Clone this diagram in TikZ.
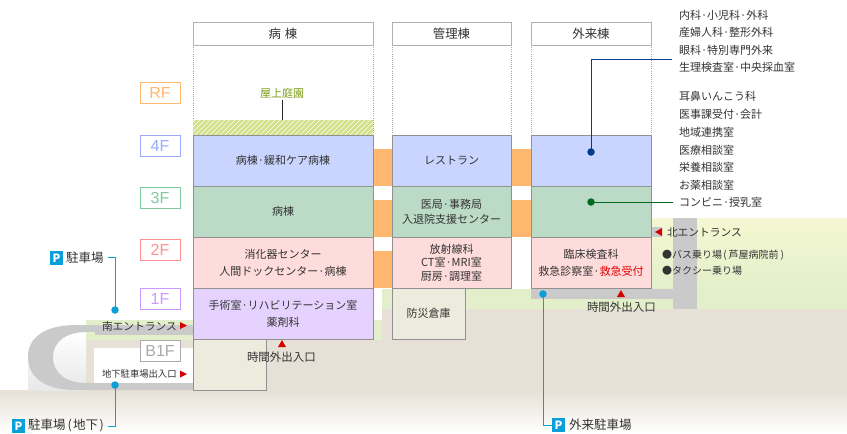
\documentclass[tikz,border=0pt]{standalone}
\usepackage{fontspec}
\setmainfont{Noto Sans CJK JP}
\newfontfamily\flfont{Liberation Sans}
\definecolor{txt}{HTML}{333333}
\definecolor{ground}{HTML}{E6E0D6}
\definecolor{grass}{HTML}{E3EFCB}
\definecolor{paley}{HTML}{F5F8D2}
\definecolor{road}{HTML}{CACACA}
\definecolor{wallc}{HTML}{919191}
\definecolor{conn}{HTML}{FFB870}
\definecolor{bluep}{HTML}{0A9FD8}
\definecolor{redm}{HTML}{D40000}
\definecolor{roof}{HTML}{D2E18A}
\definecolor{fl4}{HTML}{C9D5FF}
\definecolor{fl3}{HTML}{BBDBC6}
\definecolor{fl2}{HTML}{FFDCDC}
\definecolor{fl1}{HTML}{E5D2FF}
\definecolor{flb}{HTML}{ECEBDD}
\definecolor{lb4}{HTML}{99AAFF}
\definecolor{lb3}{HTML}{80C9A0}
\definecolor{lb2}{HTML}{FF9090}
\definecolor{lb1}{HTML}{CC99FF}
\definecolor{lbb}{HTML}{AAAAAA}
\definecolor{oliv}{HTML}{7A9A10}
\definecolor{dgreen}{HTML}{006A20}
\definecolor{dblue}{HTML}{003C8C}
\tikzset{
  every node/.style={inner sep=0pt,outer sep=0pt,text=txt,font=\fontsize{8.25pt}{12.75pt}\selectfont,align=center},
  cellbox/.style n args={3}{draw=wallc,line width=.75pt,fill=#3,minimum width=#1*.75pt,minimum height=#2*.75pt,anchor=north west},
  headbox/.style={draw=black!30,line width=.75pt,fill=white,minimum width=#1*.75pt,minimum height=23*.75pt,anchor=north west,font=\fontsize{9.3pt}{12pt}\selectfont},
  floorbox/.style={draw=#1,line width=.75pt,fill=white,text=#1,minimum width=40*.75pt,minimum height=21*.75pt,anchor=north west,font=\flfont\fontsize{12pt}{12pt}\selectfont},
  lab/.style={anchor=west},
  smalllab/.style={anchor=west,font=\fontsize{7pt}{10pt}\selectfont},
  biglab/.style={anchor=west,font=\fontsize{8.6pt}{12pt}\selectfont},
  katalab/.style={anchor=west,font=\fontsize{8.05pt}{12pt}\selectfont},
  buslab/.style={anchor=west,font=\fontsize{7.5pt}{12pt}\selectfont},
  parklab/.style={anchor=west,font=\fontsize{9.4pt}{12pt}\selectfont},
  pbadge/.style={fill=bluep,text=white,minimum width=13.5*.75pt,minimum height=13.5*.75pt,font=\bfseries\fontsize{8.5pt}{9pt}\selectfont},
  dot/.style={circle,fill=#1,minimum size=7.5*.75pt},
  tri/.style={fill=redm,draw=none},
  leader/.style={line width=.75pt},
  guide/.style={draw=black!35,line width=.6pt,densely dotted}
}
\begin{document}
\begin{tikzpicture}[x=.75pt,y=-.75pt]
\useasboundingbox (0,0) rectangle (847,433);
% ground
\fill[top color=ground,bottom color=white] (0,390) rectangle (847,433);
\fill[ground] (373,309) rectangle (847,390);
\fill[ground] (193,339) rectangle (373,390);
\fill[top color=paley,bottom color=grass] (651,218) rectangle (847,289);
\fill[grass] (382,289) rectangle (847,309);
\fill[white] (373,289) rectangle (382,320);
\fill[grass] (373,320) rectangle (382,340);
% west approach
\fill[ground] (86,340) rectangle (193,390);
\fill[white] (94,348) rectangle (193,383);
\fill[top color=white,bottom color=black!9] (28,332) rectangle (86,390);
\fill[road] (96,325) -- (76,325) .. controls (44,325) and (28,338) .. (28,357) .. controls (28,377) and (44,390) .. (76,390) -- (193,390) -- (193,383) -- (86,383) .. controls (66,383) and (53,373) .. (53,357) .. controls (53,342) and (66,332) .. (86,332) -- (96,332) -- cycle;
\fill[grass] (86,320) rectangle (193,340);
\fill[road] (95,325) rectangle (193,335);
\fill[road] (86,325) rectangle (96,332);
% east roads
\fill[road] (531,289) rectangle (673,299);
\fill[road] (673,218) rectangle (697,309);
\fill[road] (651,227) rectangle (662,237);
% link corridors
\fill[conn] (373,149) rectangle (392,186);
\fill[conn] (373,200) rectangle (392,237);
\fill[conn] (373,251) rectangle (392,288);
\fill[conn] (511,149) rectangle (531,186);
\fill[conn] (511,200) rectangle (531,237);
% guides
\foreach \gx in {193,373,392,511,531,651}{\draw[guide] (\gx,45) -- (\gx,135);}
% roof
\fill[roof] (193,120) rectangle (373,135);
\begin{scope}
\clip (193,120) rectangle (373,135);
\foreach \hx in {180,185,...,375}{\draw[white,line width=.5pt] (\hx,135) -- (\hx+15,120);}
\end{scope}
% headers
\node[headbox=180] (hA) at (193,22) {病\hspace{3pt}棟};
\node[headbox=119] (hB) at (392,22) {管理棟};
\node[headbox=120] (hC) at (531,22) {外来棟};
% floor labels
\node[floorbox=conn] (fR) at (140,82) {RF};
\node[floorbox=lb4] (f4) at (140,135) {4F};
\node[floorbox=lb3] (f3) at (140,187) {3F};
\node[floorbox=lb2] (f2) at (140,239) {2F};
\node[floorbox=lb1] (f1) at (140,288) {1F};
\node[floorbox=lbb] (fB) at (140,340) {B1F};
% ward block
\node[cellbox={180}{51}{fl4}] (a4) at (193,135) {病棟·緩和ケア病棟};
\node[cellbox={180}{51}{fl3}] (a3) at (193,186) {病棟};
\node[cellbox={180}{51}{fl2}] (a2) at (193,237) {消化器センター\\人間ドックセンター·病棟};
\node[cellbox={180}{51}{fl1}] (a1) at (193,288) {手術室·リハビリテーション室\\薬剤科};
\node[cellbox={73}{51}{flb}] (ab) at (193,339) {};
% admin block
\node[cellbox={119}{51}{fl4}] (b4) at (392,135) {レストラン};
\node[cellbox={119}{51}{fl3},font=\fontsize{8.25pt}{11.25pt}\selectfont] (b3) at (392,186) {医局·事務局\\入退院支援センター};
\node[cellbox={119}{51}{fl2},font=\fontsize{8.25pt}{10.2pt}\selectfont] (b2) at (392,237) {放射線科\\CT室·MRI室\\厨房·調理室};
\node[cellbox={73}{51}{flb}] (b1) at (392,288) {防災倉庫};
% outpatient block
\node[cellbox={120}{51}{fl4}] (c4) at (531,135) {};
\node[cellbox={120}{51}{fl3}] (c3) at (531,186) {};
\node[cellbox={120}{51}{fl2}] (c2) at (531,237) {臨床検査科\\救急診察室·\textcolor{red!90!black}{救急受付}};
% roof garden
\node[text=oliv] (roofl) at (282,93) {屋上庭園};
\coordinate (roofp) at (282,120);
\draw[line width=.75pt,black!85] (roofl.south)+(0,2) -- (roofp);
% right column
\node[lab] (t1) at (679,15) {内科·小児科·外科};
\node[lab] (t2) at (679,32) {産婦人科·整形外科};
\node[lab] (t3) at (679,50) {眼科·特別専門外来};
\node[lab] (t4) at (679,67) {生理検査室·中央採血室};
\node[lab] (t5) at (679,96) {耳鼻いんこう科};
\node[lab] (t6) at (679,114) {医事課受付·会計};
\node[lab] (t7) at (679,132) {地域連携室};
\node[lab] (t8) at (679,150) {医療相談室};
\node[lab] (t9) at (679,167) {栄養相談室};
\node[lab] (t10) at (679,185) {お薬相談室};
\node[lab] (t11) at (679,202) {コンビニ·授乳室};
\coordinate (blueEnd) at (672,59);
\node[dot=dblue] (dotB) at (591,152) {};
\draw[leader,dblue] (dotB.center) |- (blueEnd);
\coordinate (greenEnd) at (673,202);
\node[dot=dgreen] (dotG) at (591,202) {};
\draw[leader,dgreen] (dotG.center) -- (greenEnd);
% north entrance
\node[katalab] (north) at (667,232) {北エントランス};
\fill[tri] (662,228) -- (662,236) -- (655,232) -- cycle;
\node[buslab] (bus) at (662,255) {●バス乗り場\hspace{1pt}(\hspace{1.5pt}芦屋病院前\hspace{1.5pt})};
\node[buslab] (taxi) at (662,271) {●タクシー乗り場};
% out-of-hours entrances
\node[biglab] (ooh1) at (247,357) {時間外出入口};
\fill[tri] (278,347) -- (286,347) -- (282,340) -- cycle;
\node[biglab] (ooh2) at (587,307) {時間外出入口};
\fill[tri] (617,297) -- (625,297) -- (621,290) -- cycle;
% south entrance
\node[katalab] (south) at (102,326) {南エントランス};
\fill[tri] (180,322) -- (180,329) -- (187,325.5) -- cycle;
\node[smalllab] (base) at (102,374) {地下駐車場出入口};
\fill[tri] (180,370.5) -- (180,377.5) -- (187,374) -- cycle;
% parking legends
\node[pbadge] (p1) at (56.5,258) {P};
\node[parklab] (p1t) at (66,258) {駐車場};
\node[dot=bluep] (p1d) at (115,310) {};
\coordinate (p1s) at (108,257);
\draw[leader,bluep] (p1s) -| (p1d.center);
\node[pbadge] (p2) at (18.5,426) {P};
\node[parklab] (p2t) at (28,425) {駐車場\hspace{1.5pt}(\hspace{1pt}地下\hspace{1pt})};
\node[dot=bluep] (p2d) at (115,385) {};
\coordinate (p2s) at (108,426);
\draw[leader,bluep] (p2s) -| (p2d.center);
\node[pbadge] (p3) at (558.5,425) {P};
\node[parklab] (p3t) at (569,425) {外来駐車場};
\node[dot=bluep] (p3d) at (543,294) {};
\draw[leader,bluep] (p3d.center) |- (p3.west);
\end{tikzpicture}
\end{document}
